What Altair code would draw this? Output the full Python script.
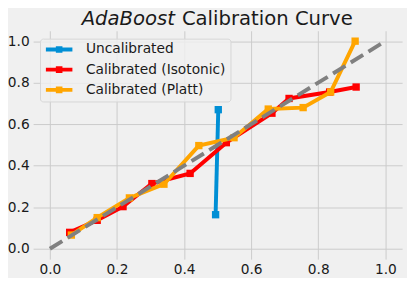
import altair as alt
import pandas as pd

# ---- data ----
series_names = ["Uncalibrated", "Calibrated (Isotonic)", "Calibrated (Platt)"]
series_colors = ["#008fd5", "#ff0000", "#ffa500"]

uncal_x = [0.494, 0.502]
uncal_y = [0.164, 0.670]

iso_x = [0.059, 0.141, 0.218, 0.304, 0.418, 0.526, 0.662, 0.713, 0.834, 0.913]
iso_y = [0.079, 0.137, 0.203, 0.314, 0.363, 0.511, 0.653, 0.724, 0.755, 0.779]

platt_x = [0.064, 0.141, 0.237, 0.340, 0.444, 0.549, 0.651, 0.755, 0.837, 0.910]
platt_y = [0.066, 0.150, 0.245, 0.311, 0.497, 0.535, 0.673, 0.680, 0.755, 1.000]

diag_x = [0.0, 1.0]
diag_y = [0.0, 1.0]

tick_values = [0.0, 0.2, 0.4, 0.6, 0.8, 1.0]
axis_domain = [-0.05, 1.05]

title_italic = "AdaBoost"
title_rest = "Calibration Curve"

# ---- build tables ----
frames = []
for name, xs, ys in zip(series_names, [uncal_x, iso_x, platt_x], [uncal_y, iso_y, platt_y]):
    frames.append(pd.DataFrame({"x": xs, "y": ys, "series": name}))
diag_df = pd.DataFrame({"x": diag_x, "y": diag_y})

BG = "#f0f0f0"
GRID = "#cbcbcb"
FONT = "DejaVu Sans"
TXT = "#1a1a1a"

xscale = alt.Scale(domain=axis_domain, nice=False, zero=False)
yscale = alt.Scale(domain=axis_domain, nice=False, zero=False)

xaxis = alt.Axis(values=tick_values, format=".1f", title=None, grid=True,
                 domain=False, ticks=False, labelPadding=4)
yaxis = alt.Axis(values=tick_values, format=".1f", title=None, grid=True,
                 domain=False, ticks=False, labelPadding=4)

# line handle with a square marker (unit = half of the nominal symbol size)
LEGEND_SYMBOL = ("M-2.25,-0.333L2.25,-0.333L2.25,0.333L-2.25,0.333Z"
                 "M-0.56,-0.56L0.56,-0.56L0.56,0.56L-0.56,0.56Z")

fill_scale = alt.Scale(domain=series_names, range=series_colors)

legend = alt.Legend(
    title=None, orient="none", legendX=7, legendY=8,
    symbolType=LEGEND_SYMBOL, symbolSize=144, symbolStrokeWidth=0,
    symbolOpacity=1, symbolOffset=8.5,
    labelFont=FONT, labelFontSize=14, labelColor=TXT,
    labelOffset=20.3, rowPadding=6.6, padding=4,
    fillColor="rgba(240,240,240,0.8)", strokeColor="#d6d6d6",
    cornerRadius=3,
)

layers = []
for i, df in enumerate(frames):
    base = alt.Chart(df)
    line = base.mark_line(strokeWidth=4, color=series_colors[i]).encode(
        x=alt.X("x:Q", scale=xscale, axis=xaxis),
        y=alt.Y("y:Q", scale=yscale, axis=yaxis),
    )
    pts = base.mark_point(shape="square", filled=True, size=56, opacity=1,
                          strokeWidth=0).encode(
        x="x:Q",
        y="y:Q",
        fill=alt.Fill("series:N", scale=fill_scale, legend=legend),
    )
    layers += [line, pts]

diag = alt.Chart(diag_df).mark_line(
    strokeWidth=4, color="#808080", strokeDash=[14.8, 6.4]
).encode(x="x:Q", y="y:Q")
layers.append(diag)

t1 = alt.Chart(pd.DataFrame({"t": [title_italic]})).mark_text(
    font=FONT, fontSize=20, fontStyle="italic", align="right",
    baseline="alphabetic", color=TXT
).encode(text="t:N", x=alt.value(144.5), y=alt.value(-5.6))
t2 = alt.Chart(pd.DataFrame({"t": [title_rest]})).mark_text(
    font=FONT, fontSize=20, align="left",
    baseline="alphabetic", color=TXT
).encode(text="t:N", x=alt.value(151.5), y=alt.value(-5.6))
layers += [t1, t2]

chart = alt.layer(*layers).properties(
    width=375.8, height=232.6,
    autosize=alt.AutoSizeParams(type="none"),
    padding={"left": 25.6, "top": 20.7, "right": 5, "bottom": 16.5},
    background=BG,
).configure_view(
    stroke=None, fill=BG
).configure_axis(
    gridColor=GRID, gridWidth=1, labelFont=FONT, labelFontSize=14,
    labelColor=TXT,
)

chart.save("out.html", embed_options={"renderer": "svg", "actions": False})
